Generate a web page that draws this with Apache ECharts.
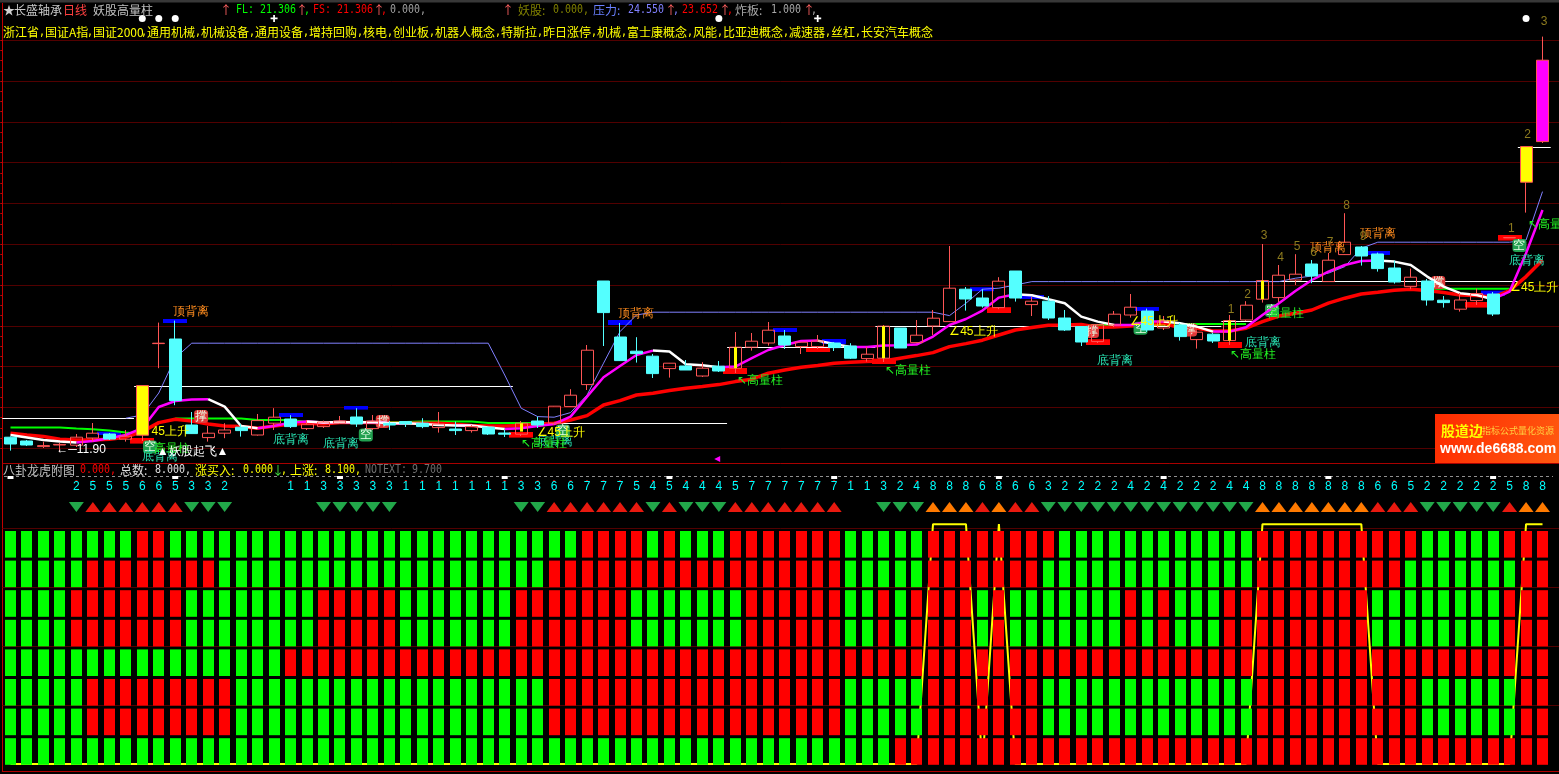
<!DOCTYPE html>
<html><head><meta charset="utf-8">
<style>html,body{margin:0;padding:0;background:#000;overflow:hidden}#c{width:1559px;height:774px}</style>
<script src="https://cdn.jsdelivr.net/npm/echarts@6/dist/echarts.min.js"></script>
</head><body><div id="c"></div>
<script>
// ---- data (open, close, low, high) ----
const candleValues=[
[12.64,12.30,11.97,12.68],[12.45,12.25,12.20,12.50],[12.17,12.22,12.10,12.42],[12.25,12.28,11.90,12.35],[12.24,12.64,12.15,12.80],
[12.60,12.84,12.42,13.35],[12.80,12.55,12.50,12.85],[12.54,12.69,12.42,13.00],[12.74,15.22,12.45,15.22],[17.32,17.34,16.09,18.37],
[17.55,14.47,14.24,18.47],[13.25,12.82,12.80,13.90],[12.62,12.84,12.42,13.20],[12.84,13.00,12.59,13.34],[13.14,12.97,12.67,13.30],
[12.75,13.47,12.72,13.80],[13.34,13.64,13.00,14.09],[13.55,13.17,13.10,13.74],[13.07,13.29,13.00,13.50],[13.17,13.40,13.10,13.47],
[13.34,13.45,13.30,13.70],[13.65,13.30,13.15,14.09],[13.07,13.44,13.00,13.75],[13.33,13.25,13.00,13.45],[13.42,13.30,13.15,13.45],
[13.34,13.17,13.09,13.59],[13.12,13.30,12.87,13.90],[13.05,12.97,12.75,13.42],[12.97,13.17,12.87,13.25],[13.14,12.80,12.75,13.17],
[12.85,12.79,12.65,13.00],[12.79,13.34,12.70,13.45],[13.45,13.25,13.10,13.67],[13.34,14.19,13.25,14.20],[14.17,14.74,14.15,15.04],
[15.27,16.99,15.00,17.25],[20.45,18.87,17.20,20.45],[17.65,16.47,16.45,18.35],[16.94,16.82,16.37,17.64],[16.69,15.82,15.60,16.80],
[16.07,16.34,15.62,16.35],[16.20,16.00,16.00,16.50],[15.70,16.09,15.65,16.39],[16.19,15.95,15.90,16.45],[16.09,17.14,15.85,17.90],
[17.14,17.44,16.97,17.85],[17.35,17.99,17.22,18.40],[17.70,17.25,17.05,18.00],[17.17,17.39,16.80,17.40],[17.17,17.45,17.05,17.75],
[17.35,17.12,16.95,17.40],[17.20,16.59,16.55,17.34],[16.57,16.79,16.42,17.17],[16.59,18.19,16.40,18.25],[18.10,17.10,17.10,18.10],
[17.37,17.74,17.35,18.50],[18.20,18.59,17.74,19.00],[18.42,20.09,18.40,22.20],[20.04,19.55,18.97,20.15],[19.60,19.20,19.12,20.04],
[19.12,20.44,19.04,20.64],[20.95,19.60,19.42,20.95],[19.27,19.44,18.70,19.65],[19.44,18.60,18.50,19.70],[18.60,18.00,17.95,19.00],
[18.17,17.40,17.20,18.20],[17.42,18.27,17.35,18.30],[18.25,18.79,18.15,18.95],[18.75,19.14,18.62,19.80],[18.95,18.00,17.90,19.07],
[18.10,18.45,18.00,18.70],[18.25,17.67,17.47,18.35],[17.52,17.89,17.07,17.95],[17.79,17.45,17.35,17.85],[17.47,18.47,17.25,18.75],
[18.50,19.24,18.45,19.44],[19.54,20.47,19.37,22.30],[19.62,20.74,19.40,21.25],[20.50,20.79,20.25,21.79],[21.30,20.70,20.34,21.50],
[20.42,21.49,20.40,21.85],[21.77,22.39,21.75,23.84],[22.15,21.70,21.22,22.20],[21.80,21.07,20.92,21.87],[21.10,20.40,20.32,21.47],
[20.17,20.64,20.04,21.07],[20.45,19.50,19.22,20.55],[19.49,19.37,19.12,19.70],[19.04,19.50,18.92,19.85],[19.47,19.82,19.25,20.07],
[19.80,18.80,18.70,19.90],[22.61,22.62,22.61,22.62],[25.39,27.17,23.87,27.17],[27.42,31.49,27.35,32.67]];
const categories=candleValues.map((_,i)=>String(i+1));
const yellowCandles=[8,92];
const magentaCandles=[93];
const shortLine=[12.75,12.63,12.5,12.42,12.37,12.45,12.6,12.75,13.09,14.15,14.45,14.52,14.54,14.17,13.2,13.09,13.2,13.37,13.42,13.37,13.4,13.37,13.4,
13.34,13.34,13.3,13.25,13.22,13.22,13.12,13.05,13.09,13.2,13.3,13.67,14.67,15.64,16.2,16.75,16.97,16.92,16.29,16.24,16.14,16.17,16.59,
17.0,17.25,17.45,17.47,17.3,17.15,17.15,17.22,17.24,17.27,17.67,18.25,18.55,18.97,19.62,19.79,19.74,19.54,19.34,18.67,18.42,18.25,18.25,18.42,
18.42,18.34,18.17,17.92,17.92,18.14,18.75,19.34,19.95,20.5,20.92,21.25,21.45,21.47,21.42,21.25,20.67,20.17,19.84,19.75,19.54,19.92,21.84,24.0];
const longLine=[12.84,12.75,12.67,12.54,12.5,12.5,12.54,12.64,12.92,13.37,13.54,13.45,13.3,13.2,13.17,13.09,13.2,13.29,13.34,13.3,13.37,13.37,13.37,
13.34,13.34,13.34,13.34,13.29,13.22,13.2,13.2,13.22,13.27,13.34,13.5,13.72,14.25,14.47,14.75,14.84,14.97,15.09,15.17,15.27,15.42,15.54,
15.84,16.0,16.14,16.22,16.34,16.39,16.42,16.45,16.59,16.72,16.87,17.17,17.32,17.49,17.75,18.0,18.12,18.24,18.25,18.27,18.14,18.15,18.2,18.25,
18.34,18.09,18.09,17.95,17.95,18.09,18.42,18.7,18.84,19.0,19.34,19.59,19.8,19.89,19.99,20.04,19.97,19.87,19.75,19.72,19.64,19.97,20.67,21.5];
const pressureLine=[null,null,null,null,null,null,null,13.59,13.75,14.85,16.6,
17.34,17.34,17.34,17.34,17.34,17.34,17.34,17.34,17.34,17.34,17.34,17.34,17.34,17.34,17.34,17.34,17.34,17.34,17.34,
15.75,14.09,13.67,13.64,13.87,14.75,16.34,17.92,18.75,
18.89,18.89,18.89,18.89,18.89,18.89,18.89,18.89,18.89,18.89,18.89,18.89,18.89,18.89,18.89,18.89,18.89,18.89,
18.72,19.34,20.04,20.09,20.25,
20.42,20.42,20.42,20.42,20.42,20.42,20.42,20.42,20.42,20.42,20.42,20.42,20.42,20.42,20.42,20.42,
20.59,20.7,20.84,21.17,22.09,
22.39,22.39,22.39,22.39,22.39,22.39,22.39,22.39,22.39,22.5,24.92];
const greenStepLine=[13.13,13.13,13.13,13.07,13.04,12.97,12.87,12.8,null,null,13.57,13.57,13.57,13.57,13.5,13.5,13.5,13.4,13.4,13.4,13.4,13.4,13.4,13.4,
13.42,13.42,13.42,13.42,13.35,13.35,13.35,13.35,13.35,null,null,null,null,null,null,null,null,null,null,null,null,null,
null,null,null,null,null,null,null,null,null,null,null,null,null,null,null,null,null,null,18.25,18.25,18.25,null,null,null,
null,18.3,18.3,18.3,18.3,null,null,null,null,null,null,null,null,null,null,null,20.06,20.06,20.06,20.06,20.06,null,null,null];
// [first bar, last bar, level]
const levelSegments=[[0,7,13.59],[8,30,15.22],[31,43,13.34],[44,52,17.14],[53,73,18.19],[74,75,18.47],[76,91,20.47],[92,93,27.17]];
// [bar, upper, lower]
const blueBars=[[6,12.92,12.75],[10,18.55,18.35],[17,13.85,13.65],[21,14.2,14.02],[37,18.5,18.25],[47,18.1,17.9],[50,17.55,17.3],[59,20.14,19.94],[62,19.75,19.55],[69,19.15,18.95],[83,21.95,21.75],[90,19.97,19.7]];
const redBars=[[8,12.6,12.32],[31,12.9,12.62],[44,16.1,15.8],[49,17.17,16.9],[53,16.57,16.3],[60,19.14,18.85],[66,17.54,17.25],[74,17.4,17.1],[89,19.4,19.12],[91,22.75,22.47]];
const yellowSticks=[[31,13.34,12.92],[44,17.14,16.09],[53,18.19,16.59],[74,18.47,17.47],[76,20.47,19.54]];
// annotations: [bar position, price, text]
const topDivergence=[[10.96,18.9,'顶背离'],[38.0,18.8,'顶背离'],[80,22.12,'顶背离'],[83.03,22.8,'顶背离']];
const bottomDivergence=[[17.01,12.5,'底背离'],[20.05,12.3,'底背离'],[9.08,11.65,'底背离'],[33.06,12.42,'底背离'],[67.04,16.45,'底背离'],[76.03,17.38,'底背离'],[92.06,21.45,'底背离']];
const highVolume=[[9.8,12.05,'高量柱'],[32.4,12.3,'↖高量柱'],[45.5,15.45,'↖高量柱'],[54.5,15.95,'↖高量柱'],[75.45,16.75,'↖高量柱'],[77.4,18.83,'高量柱'],[93.5,23.25,'↖高量柱']];
const rise45=[[9.7,12.9,'45上升'],[33.4,12.88,'∠45上升'],[58.45,17.92,'∠45上升'],[69.4,18.4,'∠45上升'],[92.5,20.1,'∠45上升']];
const whiteNotes=[[4.28,12.0,'←─11.90'],[94.3,32.55,'←─32.67']];
const takeoff=[[11.05,11.9,'▲妖股起飞▲']];
const countLabels=[[74.1,19.0,'1'],[75.1,19.75,'2'],[76.1,22.7,'3'],[77.1,21.6,'4'],[78.1,22.15,'5'],[79.1,21.85,'6'],[80.1,22.35,'7'],[81.1,24.22,'8'],[82.1,22.65,'9'],[91.1,23.05,'1'],[92.1,27.75,'2'],[93.1,33.42,'3']];
const redPills=[[11.57,13.67,'撑'],[22.6,13.42,'撑'],[65.65,17.92,'撑'],[71.6,18.0,'撑'],[86.67,20.37,'撑']];
const greenPills=[[8.47,12.15,'空'],[21.57,12.75,'空'],[33.53,12.95,'空'],[68.6,18.09,'空'],[76.58,18.97,'空'],[91.6,22.22,'空']];
const starBars=[8,9,10,43,92];
const plusBars=[16,49];
const markerPrice=33.58;
// number row: [bar, number]
const scores=[[4,2],[5,5],[6,5],[7,5],[8,6],[9,6],[10,5],[11,3],[12,3],[13,2],
[17,1],[18,1],[19,3],[20,3],[21,3],[22,3],[23,3],[24,1],[25,1],[26,1],[27,1],[28,1],[29,1],[30,1],[31,3],[32,3],[33,6],[34,6],[35,7],[36,7],[37,7],[38,5],[39,4],[40,5],[41,4],[42,4],[43,4],[44,5],[45,7],[46,7],[47,7],[48,7],[49,7],[50,7],[51,1],[52,1],[53,3],[54,2],[55,4],[56,8],[57,8],[58,8],[59,6],[60,8],[61,6],[62,6],[63,3],[64,2],[65,2],[66,2],[67,2],[68,4],[69,2],[70,4],[71,2],[72,2],[73,2],[74,4],[75,4],[76,8],[77,8],[78,8],[79,8],[80,8],[81,8],[82,8],[83,6],[84,6],[85,5],[86,2],[87,2],[88,2],[89,2],[90,2],[91,5],[92,8],[93,8]];
// red runs of the eight rows, all other cells are green
const row1Red=[[8,9],[35,38],[40,40],[44,50],[56,63],[76,85],[91,93]];
const row2Red=[[5,12],[33,50],[56,62],[76,84],[92,93]];
const row3Red=[[4,10],[19,23],[31,37],[45,50],[53,53],[55,58],[60,60],[68,68],[70,70],[74,82],[91,93]];
const row4Red=[[4,10],[19,23],[31,37],[45,50],[53,53],[55,58],[60,60],[68,68],[70,70],[74,82],[91,93]];
const row5Red=[[17,93]];
const row6Red=[[5,13],[33,50],[56,62],[76,85],[92,93]];
const row7Red=[[5,13],[33,50],[56,62],[76,85],[92,93]];
const row8Red=[[54,93]];
const yellowTopBars=[56,57,58,60,76,77,78,79,80,81,82,92,93];
const yellowLow=0.08, yellowHigh=8.18;
const tags=['浙江省','国证A指','国证2000','通用机械','机械设备','通用设备','增持回购','核电','创业板','机器人概念','特斯拉','昨日涨停','机械','富士康概念','风能','比亚迪概念','减速器','丝杠','长安汽车概念'];

// ---- build ----
const CJK='"Noto Sans CJK SC"', MONO='"DejaVu Sans Mono"';
const n=categories.length;
const rows=[row1Red,row2Red,row3Red,row4Red,row5Red,row6Red,row7Red,row8Red];
const cells=[];
rows.forEach((runs,r)=>{for(let i=0;i<n;i++){const red=runs.some(a=>i>=a[0]&&i<=a[1]);cells.push([i,8-r,red?1:0]);}});
const rising=i=>i>0&&i<n&&shortLine[i]>=shortLine[i-1];
const magentaLine=shortLine.map((v,i)=>(rising(i)||rising(i+1))?v:null);
const whiteLine=shortLine.map((v,i)=>((i>0&&!rising(i))||(i+1<n&&!rising(i+1)))?v:null);
const candleData=candleValues.map((v,i)=>{
  if(yellowCandles.includes(i))return {value:v,itemStyle:{color:'#ffff00',borderColor:'#ff5555'}};
  if(magentaCandles.includes(i))return {value:v,itemStyle:{color:'#ff00ff',borderColor:'#ff5555'}};
  return {value:v};
});
function barRender(width,fill){return (p,api)=>{
  const a=api.coord([api.value(0),api.value(1)]),b=api.coord([api.value(0),api.value(2)]);
  return {type:'rect',shape:{x:Math.round(a[0]-width/2),y:a[1],width,height:Math.max(1,b[1]-a[1])},style:{fill}};
};}
function levelRender(p,api){
  const a=api.coord([api.value(0),api.value(2)]),b=api.coord([api.value(1),api.value(2)]);
  const half=8.2;
  return {type:'line',shape:{x1:a[0]-half,y1:Math.round(a[1])+.5,x2:b[0]+half,y2:Math.round(a[1])+.5},style:{stroke:'#ffffff',lineWidth:1}};
}
function cellRender(p,api){
  const a=api.coord([api.value(0),api.value(1)]),b=api.coord([api.value(0),api.value(1)-1]);
  return {type:'rect',shape:{x:Math.round(a[0]-5.5),y:a[1]+1.5,width:11,height:b[1]-a[1]-3},style:{fill:api.value(2)?'#ff0000':'#00ff00'}};
}
function textSeries(data,color,font,extra){return Object.assign({type:'scatter',xAxisIndex:2,yAxisIndex:1,data,symbolSize:1,itemStyle:{color:'transparent',opacity:1},silent:true,z:7,
  label:{show:true,position:'inside',formatter:p=>p.value[2],color,font:font||('12px '+CJK)}},extra||{});}
function pillSeries(data,color){return {type:'scatter',xAxisIndex:2,yAxisIndex:1,data,symbol:'roundRect',symbolSize:[14,13],itemStyle:{color,opacity:1},silent:true,z:3,
  label:{show:true,position:'inside',formatter:p=>p.value[2],color:'#e8ffe8',font:'9px '+CJK}};}
const lv={tick:50.5,dot:47,num:41.5,tri:21};
const tickBars=[];for(let i=0;i<n;i+=10)tickBars.push([i,lv.tick]);
function triSeries(filter,color,rot){return {type:'scatter',xAxisIndex:3,yAxisIndex:2,symbol:'triangle',symbolSize:[15,10],symbolRotate:rot,itemStyle:{color,opacity:1},silent:true,z:3,
  data:scores.filter(s=>filter(s[1])).map(s=>[s[0],lv.tri])};}

const opt={
 backgroundColor:'#000',animation:false,
 grid:[
  {left:2.26,width:1556.74,top:40.3,height:408},
  {left:2.26,width:1548.5,top:0,height:463},
  {left:2.26,width:1548.5,top:463,height:65},
  {left:2.26,width:1548.5,top:529.5,height:236.8},
  {left:2.26,width:1548.5,top:770,height:1.3}
 ],
 xAxis:[
  {gridIndex:0,type:'category',data:categories,show:false},
  {gridIndex:1,type:'category',data:categories,show:false},
  {gridIndex:1,type:'value',min:-0.5,max:93.5,show:false},
  {gridIndex:2,type:'category',data:categories,show:false},
  {gridIndex:3,type:'category',data:categories,show:false},
  {gridIndex:4,type:'category',data:categories,axisLine:{lineStyle:{color:'#b00000',width:1}},
   axisTick:{alignWithLabel:true,length:3,lineStyle:{color:'#b00000'},interval:(i)=>i%5===0||i===54},axisLabel:{show:false}}
 ],
 yAxis:[
  {gridIndex:0,type:'value',min:0,max:10,interval:1,axisLine:{show:false},axisLabel:{show:false},
   axisTick:{show:true,length:2,lineStyle:{color:'#c00000'}},minorTick:{show:true,splitNumber:4,length:2,lineStyle:{color:'#c00000'}},
   splitLine:{show:true,lineStyle:{color:'#520000',width:1}}},
  {gridIndex:1,type:'value',min:11.35,max:34.5,show:false,splitLine:{show:false}},
  {gridIndex:2,type:'value',min:0,max:65,show:false,splitLine:{show:false}},
  {gridIndex:3,type:'value',min:0,max:8,interval:2,show:false,splitLine:{show:false}},
  {gridIndex:4,type:'value',min:0,max:1,show:false,splitLine:{show:false}}
 ],
 series:[
  {type:'custom',xAxisIndex:1,yAxisIndex:1,data:redBars,renderItem:barRender(24,'#ff0000'),z:2,silent:true},
  {type:'custom',xAxisIndex:1,yAxisIndex:1,data:blueBars,renderItem:barRender(24,'#0000ff'),z:2,silent:true},
  pillSeries(redPills,'#e03a3a'),
  pillSeries(greenPills,'#22a050'),
  {type:'custom',xAxisIndex:1,yAxisIndex:1,data:levelSegments,renderItem:levelRender,z:3,silent:true},
  {type:'line',xAxisIndex:1,yAxisIndex:1,data:greenStepLine,step:'end',symbol:'none',lineStyle:{color:'#00ff00',width:2},z:3,silent:true},
  {type:'line',xAxisIndex:1,yAxisIndex:1,data:pressureLine,symbol:'none',lineStyle:{color:'#8080ff',width:1},z:3,silent:true},
  {type:'line',xAxisIndex:1,yAxisIndex:1,data:longLine,symbol:'none',lineStyle:{color:'#ff0000',width:3.5},z:3,silent:true},
  {type:'line',xAxisIndex:1,yAxisIndex:1,data:magentaLine,symbol:'none',lineStyle:{color:'#ff00ff',width:2.5},z:4,silent:true},
  {type:'line',xAxisIndex:1,yAxisIndex:1,data:whiteLine,symbol:'none',lineStyle:{color:'#ffffff',width:2.5},z:4,silent:true},
  {type:'candlestick',xAxisIndex:1,yAxisIndex:1,data:candleData,barWidth:12.5,clip:false,silent:true,z:5,
   itemStyle:{color:'transparent',color0:'#54ffff',borderColor:'#ff5555',borderColor0:'#54ffff',borderWidth:1}},
  {type:'custom',xAxisIndex:1,yAxisIndex:1,data:yellowSticks,renderItem:barRender(3,'#ffff00'),z:6,silent:true},
  textSeries(topDivergence,'#ff8c1e'),
  textSeries(bottomDivergence,'#28e0b0'),
  textSeries(highVolume,'#22f022'),
  textSeries(rise45,'#ffff00'),
  textSeries(whiteNotes,'#ffffff','11px '+MONO),
  textSeries(takeoff,'#ffffff'),
  textSeries(countLabels,'#8c7a1e','13px '+MONO),
  {type:'scatter',xAxisIndex:1,yAxisIndex:1,data:starBars.map(i=>[i,markerPrice]),symbol:'circle',symbolSize:7,itemStyle:{color:'#fff',opacity:1},silent:true,z:7},
  {type:'scatter',xAxisIndex:1,yAxisIndex:1,data:plusBars.map(i=>[i,markerPrice]),symbol:'path://M3 0h2v3h3v2H5v3H3V5H0V3h3z',symbolSize:7,itemStyle:{color:'#fff',opacity:1},silent:true,z:7},
  {type:'scatter',xAxisIndex:2,yAxisIndex:1,data:[[42.9,11.55]],symbol:'triangle',symbolSize:6,symbolRotate:90,itemStyle:{color:'#ff00ff',opacity:1},silent:true,z:7},
  // middle band
  {type:'scatter',xAxisIndex:3,yAxisIndex:2,data:tickBars,symbol:'rect',symbolSize:[6,3],itemStyle:{color:'#fff',opacity:1},silent:true,z:4},
  {type:'scatter',xAxisIndex:3,yAxisIndex:2,data:scores.map(s=>[s[0],lv.dot]),symbol:'rect',symbolSize:2,itemStyle:{color:'#c00000',opacity:1},silent:true,z:3},
  {type:'scatter',xAxisIndex:3,yAxisIndex:2,data:scores.map(s=>[s[0],lv.num,s[1]]),symbolSize:1,itemStyle:{color:'transparent',opacity:1},silent:true,z:4,
   label:{show:true,position:'inside',formatter:p=>String(p.value[2]),color:'#00ffff',font:'12px '+MONO}},
  triSeries(v=>v>=2&&v<=4,'#22a84a',180),
  triSeries(v=>v>=5&&v<=7,'#e8190f',0),
  triSeries(v=>v===8,'#ff7a00',0),
  // cell band
  {type:'line',xAxisIndex:4,yAxisIndex:3,data:categories.map((_,i)=>yellowTopBars.includes(i)?yellowHigh:yellowLow),symbol:'none',clip:false,lineStyle:{color:'#ffff00',width:2},z:2,silent:true},
  {type:'custom',xAxisIndex:4,yAxisIndex:3,data:cells,renderItem:cellRender,z:3,silent:true}
 ],
 graphic:{elements:[]}
};
const g=opt.graphic.elements;
function T(text,x,y,fill,font){g.push({type:'text',z:50,silent:true,style:{text,x,y,fill,font:font||('12px '+CJK),textVerticalAlign:'middle'}});}
function N(text,x,y,fill){g.push({type:'text',z:50,silent:true,x,y,scaleX:0.83,style:{text,x:0,y:0,fill,font:'12px '+MONO,textVerticalAlign:'middle'}});}
function L(x1,y1,x2,y2,stroke,lw,dash){g.push({type:'line',z:1,silent:true,shape:{x1,y1,x2,y2},style:{stroke,lineWidth:lw||1,lineDash:dash||null}});}
g.push({type:'rect',z:1,silent:true,shape:{x:0,y:0,width:1559,height:2.5},style:{fill:'#383838'}});
L(2.5,3,2.5,771,'#c00000',1);
L(2.5,463.5,1559,463.5,'#a80000',1);
L(4,476.5,1553,476.5,'#909090',1,[3,3]);
[528.5,587.5,646.5,705.5].forEach(y=>L(2.5,y,1559,y,'#520000',1));
L(2.5,771.5,1559,771.5,'#b00000',1);
// header
T('★',3,10,'#d0d0d0');T('长盛轴承',14,10,'#c8c8c8');T('日线',63,10,'#ff4040');T('妖股高量柱',93,10,'#c0c0c0');
T('↑',220,10,'#ff6060');N('FL:',236,10,'#00ff00');N('21.306',260,10,'#00ff00');T('↑',296,10,'#ff6060');N(',',304,10,'#00ff00');
N('FS:',313,10,'#ff0000');N('21.306',337,10,'#ff0000');T('↑',373,10,'#ff6060');N(',',381,10,'#ff0000');
N('0.000,',390,10,'#a0a0a0');T('↑',502,10,'#ff6060');
T('妖股:',518,10,'#808000');N('0.000,',553,10,'#808000');
T('压力:',593,10,'#6a80ff');N('24.550',628,10,'#8080ff');T('↑',665,10,'#ff6060');N(',',673,10,'#8080ff');
N('23.652',682,10,'#ff0000');T('↑',719,10,'#ff6060');N(',',727,10,'#ff0000');
T('炸板:',735,10,'#a8a8a8');N('1.000',771,10,'#a8a8a8');T('↑',803,10,'#ff6060');N(',',811,10,'#a8a8a8');
// tag row
let tx=3;
tags.forEach((t,i)=>{T(t,tx,32,'#ffff00');for(const ch of t)tx+=ch.charCodeAt(0)>255?12:6;if(i<tags.length-1){N(',',tx,32,'#ffff00');tx+=6;}});
// lower header
T('八卦龙虎附图',3,470,'#c0c0c0');N('0.000,',80,470,'#ff0000');T('总数:',120,470,'#e0e0e0');N('8.000,',155,470,'#e0e0e0');
T('涨买入:',195,470,'#ffff00');N('0.000',243,470,'#ffff00');T('↓',272,470,'#40e040');N(',',281,470,'#ffff00');
T('上涨:',290,470,'#ffff00');N('8.100,',325,470,'#ffff00');N('NOTEXT:',365,470,'#707070');N('9.700',412,470,'#707070');
// watermark
g.push({type:'rect',z:50,silent:true,shape:{x:1435,y:414,width:124,height:49},style:{fill:{type:'linear',x:0,y:0,x2:1,y2:1,colorStops:[{offset:0,color:'#ff2a00'},{offset:1,color:'#ff5a10'}]}}});
T('股道边',1441,431,'#ffff00','bold 14px '+CJK);T('指标公式量化资源',1482,431,'#ffd040','9px '+CJK);T('www.de6688.com',1440,449,'#ffffff','bold 14px "Liberation Sans"');

echarts.init(document.getElementById('c')).setOption(opt);
</script></body></html>
